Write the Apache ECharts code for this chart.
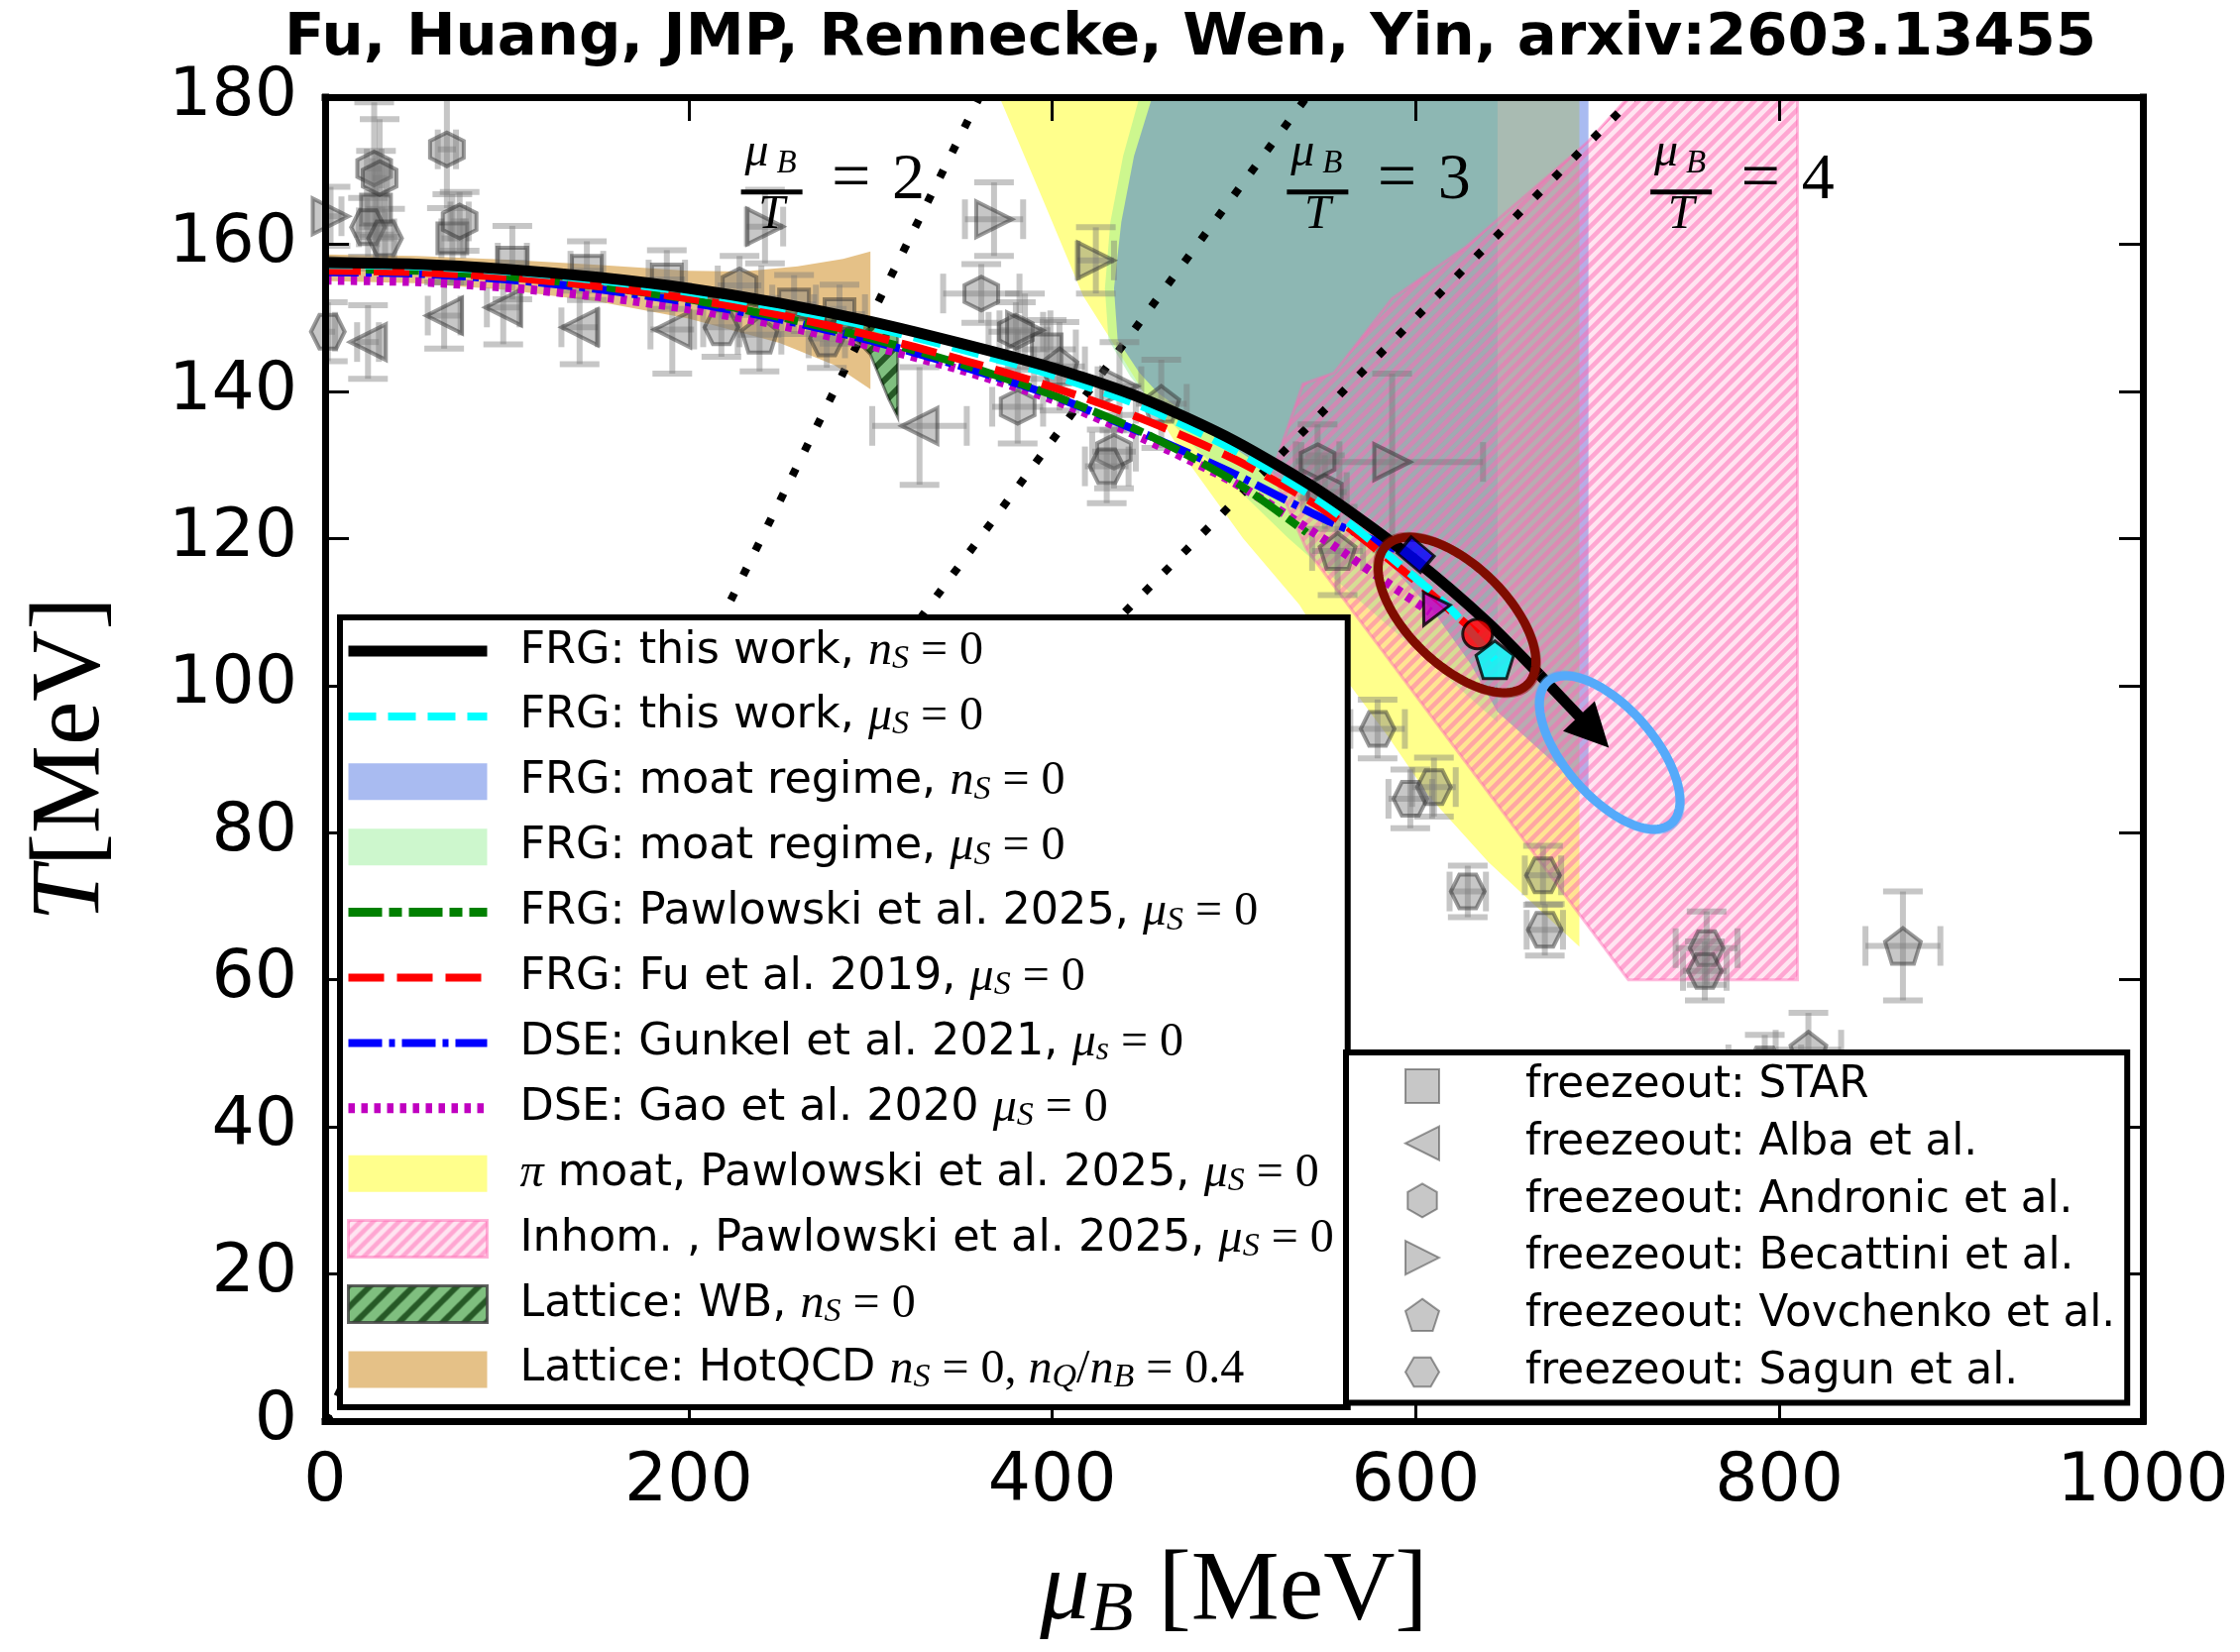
<!DOCTYPE html>
<html><head><meta charset="utf-8">
<script src="https://cdn.jsdelivr.net/npm/echarts@6/dist/echarts.min.js"></script>
<style>html,body{margin:0;padding:0;background:#fff}#c{width:2260px;height:1667px}</style>
</head><body><div id="c"></div>
<script>
// ================= DATA =================
const xTickMin = 0, xTickMax = 1000, xTickStep = 200;
const yTickMin = 0, yTickMax = 180, yTickStep = 20;

// FRG this work, n_S = 0 (black)
const frgNsMu = [0,50,100,150,200,250,300,350,400,450,500,550,600,640,668];
const frgNsT  = [157.5,157.3,156.6,155.5,154.0,152.0,149.5,146.5,143.2,139.0,133.3,126.0,117.0,108.5,101.5];
// arrow continuing the black line
const arrowMu = [668, 698];
const arrowT  = [101.5, 93.7];
// FRG this work, mu_S = 0 (cyan)
const frgMsMu = [0,50,100,150,200,250,300,350,400,450,500,550,600,620,643.5];
const frgMsT  = [157.2,157.0,156.3,155.1,153.5,151.4,148.8,145.7,142.2,137.9,132.0,124.6,114.6,110.2,103.5];
// FRG Fu 2019 (red)
const fuMu = [0,50,100,150,200,250,300,350,400,450,500,550,600,634];
const fuT  = [156.4,156.2,155.5,154.3,152.6,150.4,147.6,144.3,140.6,136.2,130.8,123.8,114.2,107.0];
// FRG Pawlowski 2025 (green)
const pawMu = [0,50,100,150,200,250,300,350,400,450,500,540];
const pawT  = [156.6,156.4,155.6,154.3,152.5,150.1,147.2,143.7,139.5,134.4,127.8,120.8];
// DSE Gunkel 2021 (blue)
const gunMu = [0,50,100,150,200,250,300,350,400,450,500,550,600];
const gunT  = [156.2,156.0,155.2,153.9,152.1,149.8,146.9,143.4,139.4,134.3,128.8,122.6,117.4];
// DSE Gao 2020 (magenta)
const gaoMu = [0,50,100,150,200,250,300,350,400,450,500,550,590,608];
const gaoT  = [155.1,154.9,154.1,152.9,151.2,149.0,146.2,142.9,138.9,133.6,127.6,119.8,113.0,110.0];
// critical end points (blue, magenta, red, cyan)
const cepMu = [600, 608, 634, 643.5];
const cepT  = [117.8, 110.0, 107.0, 103.5];

// mu_B/T = const guide lines
const ratioLineMu = [[0,360],[0,540],[0,720]];
const ratioLineT  = [[0,180],[0,180],[0,180]];
const ratioLabelMu = [245.7, 546, 746];
const ratioLabelT  = [167.1, 167.1, 167.1];
const ratioLabelN  = ['2','3','4'];

// regions
const yellowMu = [371,395,417,440,455,473,505,536,561,585,607,640,690,690];
const yellowT  = [180,166,153,144,138,131,120,111,101,93,85,76,64.5,180];
const greenMu  = [448,439,432,429,431,443,453,480,505,530,560,590,620,645,645];
const greenT   = [180,172,163,154,147,142,139,132,126,120,113.5,107,100.5,95,180];
const blueMu   = [455,445,438,434,436,448,458,490,520,550,580,610,630,645,695,695];
const blueT    = [180,172,163,154,147,142.5,139.8,134,129,124,118,110,103,96.4,85.3,180];
const pinkMu   = [717,810,810,717,540,521,538,555,587,628,695];
const pinkT    = [180,180,60,60,118.5,129,141,142.5,152.6,159.7,174];
const hotMu = [0,50,100,150,200,230,260,285,300, 300,280,250,200,150,100,50,0];
const hotT  = [158.6,158.4,157.9,157.2,156.4,156.3,157.0,158.0,159.0, 140.3,143.6,146.6,149.9,152.2,153.8,154.7,155.0];
const wbMu  = [0,100,200,260,300,315, 315,310,300,290,280,250,200,100,0];
const wbT   = [158.2,157.0,154.0,151.3,149.2,148.6, 136.5,139.0,145.0,147.5,148.6,151.0,153.3,156.0,157.2];

// ellipses: centre, first and second semi-axis vectors (data units)
const ellMu = [622.7, 706.7];
const ellT  = [109.6, 90.9];
const ellA  = [[38.9,-9.41],[33.9,-9.65]];
const ellB  = [[-19.1,-4.8],[-18.5,-3.95]];

// freeze-out data: mu, T, mu error, T error
const starMu = [28,70,103,144,188,258,283,397];
const starT  = [164.7,160.8,157.5,156.4,155.2,151.8,150.5,145.7];
const starXe = [5,6,8,9,10,12,14,16];
const starYe = [8,6,5,4,4,4,4,4];

const albaMu = [23.6,65.5,98,140,191,327];
const albaT  = [146.7,150.3,151.4,148.7,148.4,135.3];
const albaXe = [6,9,9,10,12,26];
const albaYe = [5,4.5,5,5,6,8];

const andMu = [27,30,67,74,228,361,380,381,434,546,550];
const andT  = [170.3,169.0,172.9,163.1,154.4,153.3,148.1,137.9,131.8,130.5,126.3];
const andXe = [4,4,5,5,12,21,15,14,12,12,12];
const andYe = [9,8,8,4,4,4,4,5,5,5,5];

const becMu = [3,242,368,385,424,437,587];
const becT  = [163.8,162.4,163.4,148.3,157.8,140.7,130.4];
const becXe = [6,10,16,14,10,12,50];
const becYe = [4,5,5,5,4.5,6,12];

const vovMu = [239,404,460,557,868,816];
const vovT  = [147.7,143.4,138.3,118.3,64.6,50.5];
const vovXe = [12,14,14,14,20.6,18];
const vovYe = [5,6,6,6,7.4,5];

const sagMu = [1.5,23.6,33,218,276,430,579,597,610,628.6,670,671,760,759,792];
const sagT  = [148.1,162.3,160.8,148.7,147.2,129.8,94.1,84.6,86.2,72.0,74.2,66.8,64.3,61.2,48.5];
const sagXe = [4,5,5,10,10,12,15,12,12,10,10,10,17,12,20];
const sagYe = [4,4,4,4,4,5,4,4,4,3.5,4,3.5,5,4,4];

// ================= STYLE HELPERS =================
const zip = (a,b) => a.map((v,i)=>[v,b[i]]);
const SERIF = 'Liberation Serif';
const SANS = 'DejaVu Sans';

function hatch(bg, fg, size, lw) {
  const c = document.createElement('canvas');
  c.width = size; c.height = size;
  const g = c.getContext('2d');
  g.fillStyle = bg; g.fillRect(0,0,size,size);
  g.strokeStyle = fg; g.lineWidth = lw; g.lineCap = 'butt';
  g.beginPath();
  g.moveTo(-size/2, size/2); g.lineTo(size/2, -size/2);
  g.moveTo(-1, size+1); g.lineTo(size+1, -1);
  g.moveTo(size/2, size*1.5); g.lineTo(size*1.5, size/2);
  g.stroke();
  return {image: c, repeat: 'repeat'};
}
const pinkHatch = hatch('rgba(255,105,180,0.18)', 'rgba(255,105,180,0.5)', 13, 4.5);
const wbHatch = hatch('rgba(0,128,0,0.5)', 'rgba(0,45,0,0.7)', 22, 6);

function dashPath(pattern, th, W, H) {
  let d = 'M0 0 M' + W + ' ' + H + ' ';
  const y0 = (H - th) / 2;
  if (!pattern) { return 'path://' + d + 'M0 ' + y0 + ' h' + W + ' v' + th + ' h' + (-W) + ' Z'; }
  let x = 0, i = 0;
  while (x < W) {
    const len = pattern[i % pattern.length];
    if (i % 2 === 0) { const w = Math.min(len, W - x); d += 'M' + x + ' ' + y0 + ' h' + w + ' v' + th + ' h' + (-w) + ' Z '; }
    x += len; i++;
  }
  return 'path://' + d;
}

const SYM = {
  square: 'rect',
  left: 'path://M0,50 L100,0 L100,100 Z',
  right: 'path://M100,50 L0,0 L0,100 Z',
  hexV: 'path://M50,0 L93.3,25 L93.3,75 L50,100 L6.7,75 L6.7,25 Z',
  hexH: 'path://M0,50 L25,6.7 L75,6.7 L100,50 L75,93.3 L25,93.3 Z',
  pent: 'path://M50,0 L97.6,34.5 L79.4,90.5 L20.6,90.5 L2.4,34.5 Z',
  triDown: 'path://M0,0 L100,0 L50,87 Z'
};

// ================= SERIES =================
const N = {
  black: 'FRG: this work, nS=0', cyan: 'FRG: this work, muS=0',
  blueR: 'FRG: moat regime, nS=0', greenR: 'FRG: moat regime, muS=0',
  paw: 'FRG: Pawlowski et al. 2025, muS=0', fu: 'FRG: Fu et al. 2019, muS=0',
  gun: 'DSE: Gunkel et al. 2021, mus=0', gao: 'DSE: Gao et al. 2020 muS=0',
  yellow: 'pi moat, Pawlowski et al. 2025, muS=0', pink: 'Inhom. , Pawlowski et al. 2025, muS=0',
  wb: 'Lattice: WB, nS=0', hot: 'Lattice: HotQCD nS=0, nQ/nB=0.4',
  star: 'freezeout: STAR', alba: 'freezeout: Alba et al.', and: 'freezeout: Andronic et al.',
  bec: 'freezeout: Becattini et al.', vov: 'freezeout: Vovchenko et al.', sag: 'freezeout: Sagun et al.'
};

function region(name, mus, Ts, fill, stroke, lw, legendColor, z) {
  return {
    type: 'custom', name: name, z: z, silent: true, clip: true,
    itemStyle: {color: legendColor || fill},
    renderItem: function (params, api) {
      return {type: 'polygon', shape: {points: mus.map((m,i)=>api.coord([m, Ts[i]]))},
              style: {fill: fill, stroke: stroke || null, lineWidth: lw || 0}};
    },
    data: [[mus[0], Ts[0]]]
  };
}

function curve(name, mus, Ts, color, width, dash, z, extra) {
  return Object.assign({
    type: 'line', name: name, z: z, data: zip(mus, Ts), showSymbol: false, symbol: 'none',
    smooth: 0.25, color: color, itemStyle: {color: color},
    lineStyle: {color: color, width: width, type: dash || 'solid', cap: 'butt'}
  }, extra || {});
}

function errBars(mus, Ts, xe, ye) {
  return {
    type: 'custom', z: 3, silent: true, clip: true,
    renderItem: function (params, api) {
      const m = api.value(0), t = api.value(1), dx = api.value(2), dy = api.value(3);
      const l = api.coord([m-dx, t]), r = api.coord([m+dx, t]), u = api.coord([m, t+dy]), d = api.coord([m, t-dy]);
      const st = {stroke: 'rgba(120,120,120,0.42)', lineWidth: 6};
      const cap = 20;
      const L = (x1,y1,x2,y2) => ({type:'line', shape:{x1,y1,x2,y2}, style: st});
      return {type: 'group', children: [
        L(l[0], l[1], r[0], r[1]), L(u[0], u[1], d[0], d[1]),
        L(l[0], l[1]-cap, l[0], l[1]+cap), L(r[0], r[1]-cap, r[0], r[1]+cap),
        L(u[0]-cap, u[1], u[0]+cap, u[1]), L(d[0]-cap, d[1], d[0]+cap, d[1])
      ]};
    },
    data: mus.map((m,i)=>[m, Ts[i], xe[i], ye[i]])
  };
}

const markerStyle = {color: 'rgba(128,128,128,0.55)', borderColor: 'rgba(45,45,45,0.6)', borderWidth: 4};
function points(name, mus, Ts, symbol, size) {
  return {type: 'scatter', name: name, z: 4, symbol: symbol, symbolSize: size,
          itemStyle: markerStyle, data: zip(mus, Ts), silent: true};
}

const dashes = {cyan: [28,12], red: [36,13], green: [34,7,13,7], blue: [34,7,6,7], magenta: [6.5,6.5]};

const series = [
  region(N.yellow, yellowMu, yellowT, 'rgba(255,255,0,0.45)', null, 0, null, 1),
  region(N.greenR, greenMu, greenT, 'rgba(144,238,144,0.45)', null, 0, null, 1),
  region(N.blueR, blueMu, blueT, 'rgba(65,105,225,0.45)', null, 0, null, 1),
  region(N.pink, pinkMu, pinkT, pinkHatch, 'rgba(255,105,180,0.45)', 3, pinkHatch, 1),
  region(N.hot, hotMu, hotT, 'rgba(215,160,70,0.65)', null, 0, null, 1),
  region(N.wb, wbMu, wbT, wbHatch, 'rgba(0,0,0,0.45)', 3, wbHatch, 1)
];
// guide lines mu_B/T
ratioLineMu.forEach((mus, k) => {
  series.push({type: 'line', z: 2, silent: true, data: zip(mus, ratioLineT[k]), showSymbol: false, symbol: 'none',
    lineStyle: {color: '#000', width: 8, type: [8, 20], cap: 'butt'}});
});
// ratio labels
series.push({
  type: 'custom', z: 7, silent: true,
  renderItem: function (params, api) {
    const p = api.coord([api.value(0), api.value(1)]);
    const n = ratioLabelN[params.dataIndex];
    const tx = (x, y, text, size, italic) => ({type: 'text', x: x, y: y, style: {text: text, fontFamily: SERIF,
      fontStyle: italic ? 'italic' : 'normal', fontSize: size, fill: '#000', align: 'center', verticalAlign: 'middle'}});
    return {type: 'group', x: p[0], y: p[1], children: [
      tx(-15, -39, 'μ', 48, true), tx(15, -28, 'B', 33, true),
      {type: 'rect', shape: {x: -31, y: -2.5, width: 62, height: 5}, style: {fill: '#000'}},
      tx(0, 24, 'T', 48, true), tx(80, -11, '=', 70, false), tx(138, -11, n, 66, false)
    ]};
  },
  data: ratioLabelMu.map((m,i)=>[m, ratioLabelT[i]])
});
// error bars + markers
series.push(errBars(starMu, starT, starXe, starYe), errBars(albaMu, albaT, albaXe, albaYe),
  errBars(andMu, andT, andXe, andYe), errBars(becMu, becT, becXe, becYe),
  errBars(vovMu, vovT, vovXe, vovYe), errBars(sagMu, sagT, sagXe, sagYe));
series.push(points(N.star, starMu, starT, SYM.square, 30), points(N.alba, albaMu, albaT, SYM.left, 36),
  points(N.and, andMu, andT, SYM.hexV, 34), points(N.bec, becMu, becT, SYM.right, 36),
  points(N.vov, vovMu, vovT, SYM.pent, 36), points(N.sag, sagMu, sagT, SYM.hexH, 34));
// lines
series.push(
  curve(N.gao, gaoMu, gaoT, '#c000c0', 9, dashes.magenta, 5),
  curve(N.gun, gunMu, gunT, '#0000ff', 8, dashes.blue, 5),
  curve(N.paw, pawMu, pawT, '#008000', 8, dashes.green, 5),
  curve(N.fu, fuMu, fuT, '#ff0000', 8, dashes.red, 5),
  curve(N.cyan, frgMsMu, frgMsT, '#00ffff', 8, dashes.cyan, 5),
  curve(N.black, frgNsMu, frgNsT, '#000000', 11, 'solid', 6)
);
// arrow head at the end of the black line
series.push({type: 'lines', coordinateSystem: 'cartesian2d', z: 6, silent: true,
  symbol: ['none', 'triangle'], symbolSize: 44,
  lineStyle: {color: '#000', width: 11, opacity: 1, curveness: 0},
  data: [{coords: [[arrowMu[0], arrowT[0]], [arrowMu[1], arrowT[1]]]}]});
// CEP markers
const cepStyle = [
  {symbol: 'rect', symbolSize: [30, 22], symbolRotate: -40, color: '#0000ff'},
  {symbol: SYM.triDown, symbolSize: [30, 30], symbolRotate: -26, color: '#c000c0'},
  {symbol: 'circle', symbolSize: 30, symbolRotate: 0, color: '#ff0000'},
  {symbol: SYM.pent, symbolSize: 38, symbolRotate: 0, color: '#00ffff'}
];
series.push({type: 'scatter', z: 7, silent: true,
  data: cepMu.map((m,i)=>({value: [m, cepT[i]], symbol: cepStyle[i].symbol, symbolSize: cepStyle[i].symbolSize,
    symbolRotate: cepStyle[i].symbolRotate, itemStyle: {color: cepStyle[i].color, borderColor: '#000', borderWidth: 3}}))});
// ellipses
const ellColors = ['rgb(128,12,0)', 'rgb(85,170,250)'];
series.push({type: 'custom', z: 7, silent: true, clip: true,
  renderItem: function (params, api) {
    const i = params.dataIndex;
    const c = [api.value(0), api.value(1)];
    const a = ellA[i], b = ellB[i];
    const pts = [], pts2 = [];
    for (let k = 0; k < 120; k++) {
      const t = 2 * Math.PI * k / 120, ct = Math.cos(t), st = Math.sin(t);
      pts.push(api.coord([c[0] + a[0]*ct + b[0]*st, c[1] + a[1]*ct + b[1]*st]));
      pts2.push(api.coord([c[0] + 1.03*(a[0]*ct + b[0]*st), c[1] + 1.03*(a[1]*ct + b[1]*st)]));
    }
    return {type: 'group', children: [
      {type: 'polygon', shape: {points: pts2}, style: {fill: null, stroke: ellColors[i], lineWidth: 6, opacity: 0.45}},
      {type: 'polygon', shape: {points: pts}, style: {fill: null, stroke: ellColors[i], lineWidth: 9}}
    ]};
  },
  data: ellMu.map((m,i)=>[m, ellT[i]])
});

// ================= LEGENDS =================
function richSet(fs) {
  return {
    t: {fontFamily: SANS, fontSize: fs, lineHeight: 50, color: '#000'},
    mi: {fontFamily: SERIF, fontStyle: 'italic', fontSize: 48, lineHeight: 50, color: '#000'},
    mr: {fontFamily: SERIF, fontSize: 48, lineHeight: 50, color: '#000'},
    sub: {fontFamily: SERIF, fontStyle: 'italic', fontSize: 34, lineHeight: 24, verticalAlign: 'bottom', color: '#000'}
  };
}
const labelRich = {};
labelRich[N.black] = '{t|FRG: this work, }{mi|n}{sub|S}{mr| = 0}';
labelRich[N.cyan] = '{t|FRG: this work, }{mi|μ}{sub|S}{mr| = 0}';
labelRich[N.blueR] = '{t|FRG: moat regime, }{mi|n}{sub|S}{mr| = 0}';
labelRich[N.greenR] = '{t|FRG: moat regime, }{mi|μ}{sub|S}{mr| = 0}';
labelRich[N.paw] = '{t|FRG: Pawlowski et al. 2025, }{mi|μ}{sub|S}{mr| = 0}';
labelRich[N.fu] = '{t|FRG: Fu et al. 2019, }{mi|μ}{sub|S}{mr| = 0}';
labelRich[N.gun] = '{t|DSE: Gunkel et al. 2021, }{mi|μ}{sub|s}{mr| = 0}';
labelRich[N.gao] = '{t|DSE: Gao et al. 2020 }{mi|μ}{sub|S}{mr| = 0}';
labelRich[N.yellow] = '{mi|π}{t| moat, Pawlowski et al. 2025, }{mi|μ}{sub|S}{mr| = 0}';
labelRich[N.pink] = '{t|Inhom. , Pawlowski et al. 2025, }{mi|μ}{sub|S}{mr| = 0}';
labelRich[N.wb] = '{t|Lattice: WB, }{mi|n}{sub|S}{mr| = 0}';
labelRich[N.hot] = '{t|Lattice: HotQCD }{mi|n}{sub|S}{mr| = 0, }{mi|n}{sub|Q}{mr|/}{mi|n}{sub|B}{mr| = 0.4}';

const IW = 140, IH = 37;
const legend1Data = [
  {name: N.black, icon: dashPath(null, 11, IW, IH), itemStyle: {borderWidth: 0}},
  {name: N.cyan, icon: dashPath(dashes.cyan, 8, IW, IH), itemStyle: {borderWidth: 0}},
  {name: N.blueR, icon: 'rect', itemStyle: {borderWidth: 0}},
  {name: N.greenR, icon: 'rect', itemStyle: {borderWidth: 0}},
  {name: N.paw, icon: dashPath(dashes.green, 9, IW, IH), itemStyle: {borderWidth: 0}},
  {name: N.fu, icon: dashPath(dashes.red, 8, IW, IH), itemStyle: {borderWidth: 0}},
  {name: N.gun, icon: dashPath(dashes.blue, 8, IW, IH), itemStyle: {borderWidth: 0}},
  {name: N.gao, icon: dashPath(dashes.magenta, 10, IW, IH), itemStyle: {borderWidth: 0}},
  {name: N.yellow, icon: 'rect', itemStyle: {borderWidth: 0}},
  {name: N.pink, icon: 'rect', itemStyle: {borderColor: 'rgba(255,105,180,0.5)', borderWidth: 3}},
  {name: N.wb, icon: 'rect', itemStyle: {borderColor: 'rgba(60,60,60,0.8)', borderWidth: 3}},
  {name: N.hot, icon: 'rect', itemStyle: {borderWidth: 0}}
];
const legend2Data = [N.star, N.alba, N.and, N.bec, N.vov, N.sag].map(n => ({name: n}));

const axisNameRich = {
  mi: {fontFamily: SERIF, fontStyle: 'italic', fontSize: 100, lineHeight: 110, color: '#000'},
  sub: {fontFamily: SERIF, fontStyle: 'italic', fontSize: 72, lineHeight: 46, verticalAlign: 'bottom', color: '#000'},
  mr: {fontFamily: SERIF, fontSize: 100, lineHeight: 110, color: '#000'}
};

const option = {
  animation: false,
  backgroundColor: '#fff',
  textStyle: {fontFamily: SANS},
  title: {text: 'Fu, Huang, JMP, Rennecke, Wen, Yin, arxiv:2603.13455', left: 282, top: 5,
    textStyle: {fontFamily: SANS, fontWeight: 'bold', fontSize: 59.3, color: '#000'}},
  grid: {left: 328, right: 98, top: 98, bottom: 230, containLabel: false},
  xAxis: [
    {type: 'value', min: xTickMin, max: xTickMax, interval: xTickStep, position: 'bottom', z: 15,
     axisLine: {onZero: false, lineStyle: {color: '#000', width: 7, cap: 'square'}},
     axisTick: {inside: true, length: 24, lineStyle: {color: '#000', width: 3}},
     axisLabel: {fontSize: 68, fontFamily: SANS, color: '#000', margin: 28, formatter: v => String(v)},
     splitLine: {show: false},
     name: '{mi|μ}{sub|B}{mr| [MeV]}', nameLocation: 'middle', nameGap: 118,
     nameTextStyle: {rich: axisNameRich}},
    {type: 'value', min: xTickMin, max: xTickMax, interval: xTickStep, position: 'top', z: 15,
     axisLine: {onZero: false, lineStyle: {color: '#000', width: 7, cap: 'square'}},
     axisTick: {inside: true, length: 24, lineStyle: {color: '#000', width: 3}},
     axisLabel: {show: false}, splitLine: {show: false}}
  ],
  yAxis: [
    {type: 'value', min: yTickMin, max: yTickMax, interval: yTickStep, position: 'left', z: 15,
     axisLine: {onZero: false, lineStyle: {color: '#000', width: 7, cap: 'square'}},
     axisTick: {inside: true, length: 24, lineStyle: {color: '#000', width: 3}},
     axisLabel: {fontSize: 68, fontFamily: SANS, color: '#000', margin: 28, formatter: v => String(v)},
     splitLine: {show: false},
     name: '{mi|T}{mr|[MeV]}', nameLocation: 'middle', nameGap: 200, nameRotate: 90,
     nameTextStyle: {rich: axisNameRich}},
    {type: 'value', min: yTickMin, max: yTickMax, interval: yTickStep, position: 'right', z: 15,
     axisLine: {onZero: false, lineStyle: {color: '#000', width: 7, cap: 'square'}},
     axisTick: {inside: true, length: 24, lineStyle: {color: '#000', width: 3}},
     axisLabel: {show: false}, splitLine: {show: false}}
  ],
  legend: [
    {orient: 'vertical', left: 343, top: 623, z: 20, selectedMode: false,
     backgroundColor: '#fff', borderColor: '#000', borderWidth: 6, padding: [10, 14, 13, 7],
     itemWidth: IW, itemHeight: IH, itemGap: 16.9,
     textStyle: {color: '#000', fontFamily: SANS, fontSize: 44.5, rich: Object.assign({pad: {width: 28}}, richSet(44.5))},
     formatter: name => '{pad| }' + labelRich[name],
     data: legend1Data},
    {orient: 'vertical', left: 1358, top: 1062, z: 20, selectedMode: false,
     backgroundColor: '#fff', borderColor: '#000', borderWidth: 6, padding: [12, 12, 9, 59],
     itemWidth: 34, itemHeight: 34, itemGap: 13.7,
     textStyle: {color: '#000', fontFamily: SANS, fontSize: 43.6, rich: Object.assign({pad: {width: 82}}, richSet(43.6))},
     formatter: name => '{pad| }{t|' + name + '}',
     data: legend2Data}
  ],
  series: series
};

const chart = echarts.init(document.getElementById('c'), null, {renderer: 'canvas', width: 2260, height: 1667});
chart.setOption(option);
</script>
</body></html>
